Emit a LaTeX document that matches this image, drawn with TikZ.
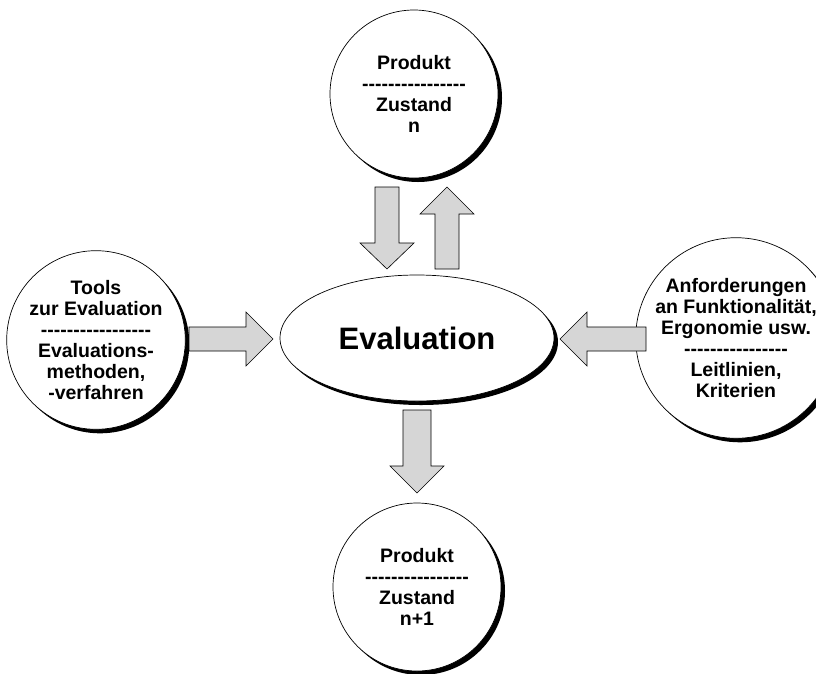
\documentclass[tikz,border=0pt]{standalone}
\usepackage{fontspec}
\setmainfont{Liberation Sans}[Ligatures=TeXOff]
\usetikzlibrary{shapes.geometric,shadows}
\begin{document}
\begin{tikzpicture}[x=1pt,y=-1pt,
  bubble/.style={circle, draw=black, line width=0.7pt, fill=white,
    minimum size=168pt, inner sep=0pt, align=center,
    font=\bfseries\fontsize{19.5}{21}\selectfont,
    general shadow={fill=black, shadow xshift=4pt, shadow yshift=-4pt}},
  centre/.style={ellipse, draw=black, line width=0.7pt, fill=white,
    minimum width=274pt, minimum height=126pt, inner sep=0pt,
    font=\bfseries\fontsize{31}{36}\selectfont,
    general shadow={fill=black, shadow xshift=4pt, shadow yshift=-4pt}},
  barrow/.style={draw=black, line width=0.6pt, fill=black!16, line join=miter}]
\useasboundingbox (0,0) rectangle (816,673);

\node[bubble] (top) at (414,94) {Produkt\\----------------\\Zustand\\n};
\node[bubble] (bottom) at (417,587) {Produkt\\----------------\\Zustand\\n+1};
\node[bubble, minimum size=174pt] (left) at (96,340) {Tools\\zur Evaluation\\-----------------\\Evaluations-\\methoden,\\-verfahren};
\node[bubble, minimum size=166pt] (right) at (736,338) {Anforderungen\\an Funktionalität,\\Ergonomie usw.\\----------------\\Leitlinien,\\Kriterien};
\node[centre] (eval) at (417,338) {Evaluation};

% top: down arrow
\draw[barrow] (375,187) -- (399,187) -- (399,243) -- (414,243) -- (387,269)
  -- (360,243) -- (375,243) -- cycle;
% top: up arrow
\draw[barrow] (435,269) -- (459,269) -- (459,214) -- (474,214) -- (447,187)
  -- (420,214) -- (435,214) -- cycle;
% left arrow
\draw[barrow] (189,327) -- (246,327) -- (246,312) -- (273,339) -- (246,366)
  -- (246,351) -- (189,351) -- cycle;
% right arrow
\draw[barrow] (646,327) -- (587,327) -- (587,312) -- (560,339) -- (587,366)
  -- (587,351) -- (646,351) -- cycle;
% bottom arrow
\draw[barrow] (403,410) -- (431,410) -- (431,466) -- (444,466) -- (417,493)
  -- (390,466) -- (403,466) -- cycle;
\end{tikzpicture}
\end{document}
